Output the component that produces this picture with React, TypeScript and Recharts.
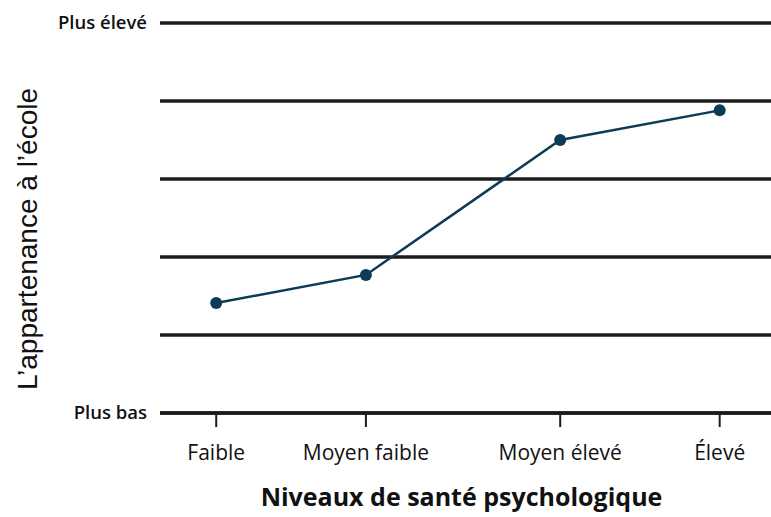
import React from 'react';
import { LineChart, Line, XAxis, YAxis, CartesianGrid, Label } from 'recharts';

const lineColor = "#0c3b55";
const rule = "#1c1c1c";

// position of each level along the x axis (uneven in the original)
const levelPositions = [0.92, 3.37, 6.55, 9.16];
const levelLabels = ["Faible", "Moyen faible", "Moyen élevé", "Élevé"];
const belonging = [1.41, 1.77, 3.5, 3.88];

const yTicks = [0, 1, 2, 3, 4, 5];
const yTickLabels: Record<number, string> = { 0: "Plus bas", 5: "Plus élevé" };

const data = levelPositions.map((x, i) => ({ x, label: levelLabels[i], value: belonging[i] }));

const levelName = (v: number) => {
  const i = levelPositions.indexOf(v);
  return i >= 0 ? levelLabels[i] : "";
};

const YTick = (props: any) => {
  const { x, y, payload } = props;
  const text = yTickLabels[payload.value];
  if (!text) return null;
  return (
    <text x={x - 7} y={y + 6} textAnchor="end" fontFamily="'Open Sans', sans-serif" fontWeight={600} fontSize={18.5} fill="#111">
      {text}
    </text>
  );
};

const XTick = (props: any) => {
  const { x, y, payload } = props;
  return (
    <text x={x} y={y + 31} textAnchor="middle" fontFamily="'Open Sans', sans-serif" fontSize={21} fill="#111">
      {levelName(payload.value)}
    </text>
  );
};

const App: React.FC = () => {
  return (
    <div style={{ position: 'absolute', left: 0, top: 0, background: '#fff' }}>
      <LineChart width={771} height={517} data={data} margin={{ top: 23, right: 0, left: 0, bottom: 44 }}>
        <CartesianGrid vertical={false} stroke={rule} strokeWidth={3.5} />
        <XAxis
          dataKey="x"
          type="number"
          domain={[0, 10]}
          ticks={levelPositions}
          tick={<XTick />}
          height={60}
          axisLine={{ stroke: rule, strokeWidth: 3.5 }}
          tickLine={{ stroke: rule, strokeWidth: 2 }}
          tickSize={14}
        >
          <Label
            content={(props: any) => {
              const vb = props.viewBox;
              return (
                <text x={vb.x + vb.width / 2 - 4} y={vb.y + vb.height + 33} textAnchor="middle" fontFamily="'Open Sans', sans-serif" fontWeight={700} fontSize={25} fill="#111">
                  Niveaux de santé psychologique
                </text>
              );
            }}
          />
        </XAxis>
        <YAxis
          type="number"
          domain={[0, 5]}
          ticks={yTicks}
          tick={<YTick />}
          width={160}
          axisLine={false}
          tickLine={false}
          tickMargin={0}
        >
          <Label
            content={(props: any) => {
              const vb = props.viewBox;
              const cx = vb.x + 27;
              const cy = vb.y + vb.height / 2 + 21;
              return (
                <text x={cx} y={cy} transform={`rotate(-90 ${cx} ${cy})`} textAnchor="middle" dominantBaseline="central" fontFamily="'Liberation Sans', Arial, sans-serif" fontSize={28} fill="#111">
                  L’appartenance à l’école
                </text>
              );
            }}
          />
        </YAxis>
        <Line
          type="linear"
          dataKey="value"
          stroke={lineColor}
          strokeWidth={2.5}
          dot={{ r: 6, fill: lineColor, stroke: lineColor, strokeWidth: 0 }}
          isAnimationActive={false}
        />
      </LineChart>
    </div>
  );
};

export default App;
